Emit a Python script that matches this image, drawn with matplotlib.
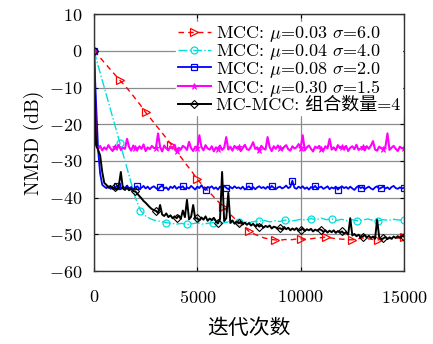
import numpy as np
import matplotlib
matplotlib.use("Agg")
import matplotlib.pyplot as plt

plt.rcParams['font.family'] = ['cmr10', 'Noto Sans CJK SC']
plt.rcParams['mathtext.fontset'] = 'cm'
plt.rcParams['axes.formatter.use_mathtext'] = True
plt.rcParams['axes.unicode_minus'] = True

# iteration grids
iters = np.arange(0, 15001, 100)
iters_coarse = np.arange(0, 15001, 250)

labels = [r'MCC: $\mu$=0.03 $\sigma$=6.0',
          r'MCC: $\mu$=0.04 $\sigma$=4.0',
          r'MCC: $\mu$=0.08 $\sigma$=2.0',
          r'MCC: $\mu$=0.30 $\sigma$=1.5',
          'MC-MCC: 组合数量=4']

# MCC mu=0.03 sigma=6.0 (coarse grid)
nmsd_red = [0, -1.5, -3.2, -4.8, -6.4, -8.0, -9.5, -11.2, -13.0, -14.8,
            -16.8, -18.5, -20.3, -22.0, -23.8, -25.6, -27.5, -29.3, -31.2, -33.0,
            -35.0, -36.6, -38.0, -39.5, -41.0, -42.5, -44.0, -45.4, -46.6, -47.8,
            -49.2, -49.9, -50.5, -51.0, -51.3, -51.5, -51.6, -51.4, -51.5, -51.3,
            -51.2, -51.4, -51.2, -51.0, -50.9, -50.7, -51.0, -51.2, -51.3, -51.4,
            -51.5, -51.2, -51.0, -51.2, -51.4, -51.5, -51.3, -51.1, -51.2, -51.0,
            -50.8]

# MCC mu=0.04 sigma=4.0 (coarse grid)
nmsd_cyan = [0, -5.0, -10.0, -15.0, -20.0, -25.0, -30.0, -35.0, -40.0, -43.5,
             -45.0, -45.8, -46.3, -46.5, -46.8, -47.0, -47.2, -47.0, -47.3, -47.1,
             -46.9, -47.2, -47.0, -46.8, -47.1, -46.9, -46.6, -46.9, -46.7, -46.5,
             -46.8, -46.5, -46.4, -46.2, -46.6, -46.3, -46.5, -46.1, -46.4, -46.2,
             -45.9, -46.1, -45.7, -46.0, -45.6, -46.0, -45.8, -46.2, -45.9, -46.3,
             -46.0, -46.3, -46.1, -45.8, -46.2, -46.3, -46.0, -46.2, -45.9, -46.1,
             -46.0]

# MCC mu=0.08 sigma=2.0
nmsd_blue = [0, -14.0, -27.0, -33.5, -36.5,
             -37.0, -37.4, -36.9, -37.6, -37.2,
             -37.5, -36.8, -37.3, -37.7, -37.0, -37.4, -36.7, -37.5, -37.1, -37.8,
             -37.2, -36.9, -37.6, -37.3, -36.8, -37.5, -37.0, -37.7, -37.2, -36.9,
             -37.4, -37.8, -37.1, -36.7, -37.5, -37.2, -37.9, -37.0, -37.4, -36.8,
             -37.6, -37.1, -37.3, -36.9, -37.7, -37.2, -37.5, -36.8, -37.3, -37.8,
             -37.0, -37.4, -36.6, -37.5, -37.9, -37.1, -37.3, -36.9, -37.6, -37.2,
             -37.8, -37.0, -37.4, -36.8, -37.3, -37.7, -37.1, -37.5, -36.9, -37.4,
             -37.2, -37.6, -37.0, -37.8, -37.3, -36.9, -37.5, -37.1, -37.7, -37.2,
             -36.9, -37.4, -37.1, -37.6, -37.0, -37.5, -36.8, -37.3, -37.7, -37.2,
             -37.0, -37.5, -37.2, -36.7, -37.4, -37.1, -35.4, -37.3, -37.6, -37.0,
             -37.4, -36.9, -37.6, -37.2, -37.8, -37.1, -37.4, -36.8, -37.5, -37.2,
             -37.0, -37.6, -37.3, -36.9, -37.7, -37.2, -37.5, -37.0, -37.8, -37.3,
             -36.9, -37.4, -37.1, -37.6, -37.0, -37.5, -37.9, -37.2, -36.8, -37.4,
             -37.1, -37.7, -37.3, -37.0, -37.5, -37.8, -37.2, -36.9, -37.6, -37.3,
             -37.0, -37.5, -37.2, -37.7, -37.1, -36.8, -37.4, -37.6, -37.2, -37.5,
             -37.3]

# MCC mu=0.30 sigma=1.5
nmsd_magenta = [0, -25.8,
                -26.8, -25.9, -27.1, -26.3, -26.9, -25.7, -26.6, -27.3,
                -26.1, -26.8, -25.6, -27.0, -26.4, -26.7, -24.0, -26.2, -27.2, -25.8,
                -26.6, -27.0, -26.0, -26.7, -25.5, -27.3, -26.3, -26.8, -25.9, -26.5,
                -26.4, -22.5, -26.2, -27.4, -25.8, -26.6, -27.1, -26.0, -26.7, -25.6,
                -27.2, -26.4, -26.9, -25.9, -26.3, -27.0, -24.8, -26.5, -27.3, -26.1,
                -26.5, -23.0, -26.2, -27.1, -25.7, -26.6, -26.9, -26.0, -27.4, -26.3,
                -26.7, -25.8, -27.0, -26.4, -23.5, -26.9, -26.1, -27.2, -25.9, -26.6,
                -26.2, -27.3, -26.5, -25.6, -26.8, -27.0, -26.1, -24.9, -26.7, -26.3,
                -27.1, -25.9, -26.6, -26.9, -23.5, -26.2, -27.3, -26.0, -26.7, -25.8,
                -26.5, -27.0, -26.2, -25.7, -26.8, -27.2, -26.0, -26.6, -26.3, -25.4,
                -26.4, -23.0, -27.1, -26.3, -25.8, -26.7, -27.4, -26.1, -26.5, -25.9,
                -26.8, -27.2, -26.0, -26.6, -24.0, -26.9, -26.3, -27.1, -25.7, -26.5,
                -26.2, -26.9, -25.9, -27.3, -26.4, -26.0, -26.8, -25.6, -27.0, -26.6,
                -26.3, -27.1, -26.0, -26.7, -25.8, -24.6, -26.9, -27.2, -26.1, -26.5,
                -26.8, -26.2, -22.5, -27.0, -26.4, -25.9, -26.7, -27.3, -26.1, -26.6,
                -26.4]

# MC-MCC with 4 combined filters
nmsd_black = [0, -25.5, -27.0, -28.5, -33.0, -36.0,
              -36.5, -37.3, -36.8, -37.6,
              -37.2, -37.8, -36.9, -33.0, -37.5, -37.9, -37.3, -38.0, -37.6, -38.2,
              -38.3, -38.9, -39.6, -40.2, -40.9, -41.4, -42.0, -42.6, -43.1, -43.4,
              -43.6, -44.2, -42.0, -44.6, -45.0, -44.3, -45.3, -44.8, -45.6, -45.1,
              -45.6, -44.9, -45.8, -43.5, -45.3, -40.6, -45.9, -45.2, -42.0, -45.7,
              -45.6, -46.2, -45.4, -46.0, -45.1, -46.3, -45.7, -46.1, -45.5, -46.4,
              -47.0, -45.8, -33.0, -46.4, -45.6, -38.7, -46.9, -46.2, -47.1, -46.5,
              -47.0, -46.6, -47.3, -46.8, -47.4, -46.9, -47.6, -47.1, -47.8, -47.3,
              -47.9, -47.5, -48.2, -47.7, -48.0, -47.6, -48.4, -47.9, -48.1, -48.5,
              -48.3, -48.7, -48.0, -48.6, -48.2, -48.9, -48.4, -48.8, -48.3, -49.0,
              -48.8, -48.4, -49.1, -48.6, -48.9, -48.5, -49.2, -48.7, -49.0, -48.6,
              -48.8, -49.3, -48.9, -49.5, -49.0, -49.4, -48.9, -49.6, -49.1, -49.5,
              -49.2, -49.8, -49.4, -50.1, -45.6, -50.3, -49.9, -50.5, -50.1, -50.7,
              -50.6, -50.2, -50.9, -50.4, -51.0, -50.6, -51.2, -46.0, -50.8, -51.3,
              -51.1, -50.7, -51.3, -50.8, -51.2, -50.6, -51.0, -50.5, -50.9, -50.4,
              -50.6]

fig = plt.figure(figsize=(4.33, 3.44), dpi=100)
ax = fig.add_axes([0.217, 0.212, 0.716, 0.747])

# marker positions (indices into each grid)
cyan_marks = list(np.round(np.linspace(0, 15000, 14) / 250).astype(int))
blue_marks = list(np.round(np.linspace(0, 15000, 15) / 100).astype(int))

ax.plot(iters_coarse, nmsd_red, color='red', ls=(0, (4, 3)), lw=1.0,
        marker='>', ms=5.5, mfc='none', mew=0.9, markevery=5, label=labels[0])
ax.plot(iters_coarse, nmsd_cyan, color='#00dede', ls='-.', lw=1.0,
        marker='o', ms=5, mfc='none', mew=0.9, markevery=cyan_marks, label=labels[1])
ax.plot(iters, nmsd_blue, color='blue', lw=1.3,
        marker='s', ms=5, mfc='none', mew=0.9, markevery=blue_marks, label=labels[2])
ax.plot(iters, nmsd_magenta, color='magenta', lw=1.5,
        marker='*', ms=5, mew=0.6, markevery=10, label=labels[3])
ax.plot(iters, nmsd_black, color='black', lw=1.4,
        marker='D', ms=4.5, mfc='none', mew=0.8, markevery=10, label=labels[4])

ax.set_xlim(0, 15000)
ax.set_ylim(-60, 10)
ax.set_xticks([0, 5000, 10000, 15000])
ax.set_yticks(np.arange(-60, 11, 10))
ax.grid(True, color='#8c8c8c', lw=0.9)
ax.set_axisbelow(True)
ax.tick_params(direction='in', top=True, right=True, labelsize=13, length=3)
ax.tick_params(axis='x', pad=13)
ax.tick_params(axis='y', pad=8)
for s in ax.spines.values():
    s.set_color('#333333')
    s.set_linewidth(1.0)

ax.set_xlabel('迭代次数', fontsize=15, labelpad=9)
ax.set_ylabel('NMSD (dB)', fontsize=14, labelpad=4)

leg = ax.legend(loc='upper right', bbox_to_anchor=(1.0, 0.975),
                fontsize=13, labelspacing=-0.12,
                handlelength=1.8, handletextpad=0.3, borderpad=0.1,
                borderaxespad=0.1, frameon=True, fancybox=False,
                framealpha=1.0, edgecolor='white')

fig.savefig('out.png', dpi=100)
